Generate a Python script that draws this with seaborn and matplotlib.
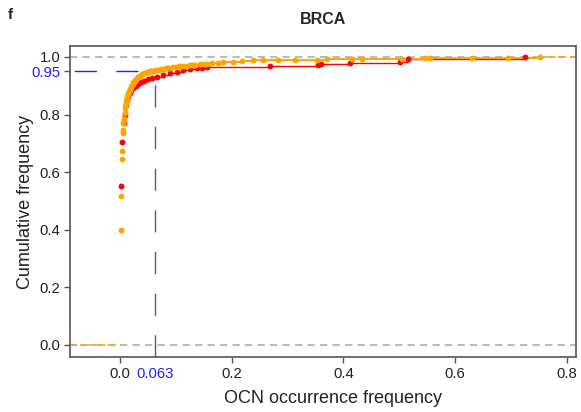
import matplotlib
matplotlib.use("Agg")
import matplotlib.pyplot as plt
import seaborn as sns
import pandas as pd

# ---- data ----
orange_x = [0.002, 0.002, 0.003, 0.003, 0.005, 0.005, 0.006, 0.007, 0.008, 0.009,
            0.010, 0.011, 0.012, 0.013, 0.014, 0.015, 0.016, 0.017, 0.018, 0.020,
            0.021, 0.023, 0.024, 0.026, 0.027, 0.029, 0.031, 0.033, 0.035, 0.038,
            0.040, 0.043, 0.045, 0.048, 0.050, 0.053, 0.056, 0.060, 0.063, 0.067,
            0.070, 0.074, 0.078, 0.082, 0.086, 0.090, 0.095, 0.100, 0.105, 0.110,
            0.115, 0.120, 0.125, 0.130, 0.135, 0.143, 0.150, 0.155, 0.165, 0.175,
            0.185, 0.202, 0.218, 0.238, 0.256, 0.283, 0.313, 0.353, 0.371, 0.415,
            0.433, 0.505, 0.546, 0.555, 0.630, 0.695, 0.752]
orange_y = [0.400, 0.517, 0.646, 0.675, 0.736, 0.745, 0.770, 0.785, 0.805, 0.822,
            0.838, 0.846, 0.855, 0.862, 0.868, 0.874, 0.880, 0.885, 0.890, 0.896,
            0.902, 0.907, 0.912, 0.916, 0.920, 0.924, 0.928, 0.932, 0.935, 0.938,
            0.941, 0.943, 0.945, 0.947, 0.948, 0.950, 0.951, 0.952, 0.953, 0.955,
            0.956, 0.958, 0.959, 0.961, 0.962, 0.963, 0.964, 0.966, 0.967, 0.968,
            0.969, 0.970, 0.971, 0.972, 0.973, 0.975, 0.976, 0.977, 0.978, 0.979,
            0.981, 0.984, 0.987, 0.988, 0.989, 0.990, 0.991, 0.991, 0.992, 0.993,
            0.993, 0.994, 0.995, 0.996, 0.997, 0.998, 1.000]

red_x = [0.001, 0.003, 0.007, 0.008, 0.010, 0.012, 0.014, 0.017, 0.020, 0.024,
         0.028, 0.032, 0.037, 0.043, 0.050, 0.058, 0.066, 0.077, 0.090, 0.102,
         0.113, 0.125, 0.138, 0.147, 0.156, 0.269, 0.355, 0.360, 0.412, 0.501,
         0.516, 0.725]
red_y = [0.552, 0.704, 0.772, 0.800, 0.833, 0.850, 0.862, 0.875, 0.885, 0.893,
         0.900, 0.907, 0.912, 0.917, 0.922, 0.926, 0.930, 0.937, 0.943, 0.948,
         0.953, 0.958, 0.960, 0.962, 0.965, 0.970, 0.972, 0.975, 0.978, 0.984,
         0.993, 1.000]

q_level = 0.95
q_value = 0.063
x_ticks = [0.0, 0.2, 0.4, 0.6, 0.8]
y_ticks = [0.0, 0.2, 0.4, 0.6, 0.8, 1.0]
title = "BRCA"
panel = "f"

df = pd.concat([
    pd.DataFrame({"x": red_x, "y": red_y, "grp": "red"}),
    pd.DataFrame({"x": orange_x, "y": orange_y, "grp": "orange"}),
])

sns.set_theme(style="white")
plt.rcParams["font.family"] = ["Liberation Sans", "DejaVu Sans"]

fig = plt.figure(figsize=(5.81, 4.12), dpi=100)
ax = fig.add_axes([0.1205, 0.1335, 0.8709, 0.7548])

xlim = (-0.0896, 0.8165)
ylim = (-0.042, 1.038)
ax.set_xlim(*xlim)
ax.set_ylim(*ylim)

# reference lines at 0 and 1
for yv in (0.0, 1.0):
    ax.axhline(yv, color="#BBBBBB", lw=1.5, ls=(0, (3.5, 2.5)), zorder=1)

# ECDF extensions
ax.plot([xlim[0], orange_x[0]], [0, 0], color="#FFA500", lw=1.2, ls=(0, (3.5, 2.5)), zorder=2)
ax.plot([orange_x[-1], xlim[1]], [1, 1], color="#FFA500", lw=1.2, ls=(0, (3.5, 2.5)), zorder=2)

pal = {"red": "#FF0000", "orange": "#FFA500"}
for grp, lw in (("red", 1.0), ("orange", 1.4)):
    sub = df[df["grp"] == grp].reset_index(drop=True)
    # horizontal step segments only (no verticals)
    ax.hlines(sub["y"].values[:-1], sub["x"].values[:-1], sub["x"].values[1:],
              color=pal[grp], lw=lw, zorder=3)
    sns.scatterplot(data=sub, x="x", y="y", color=pal[grp], s=18, linewidth=0,
                    ax=ax, zorder=4, legend=False)

# quantile markers
ax.plot([xlim[0], q_value], [q_level, q_level], color="#2222EE", lw=1.0,
        ls=(-3, (16, 14)), zorder=5)
ax.plot([q_value, q_value], [ylim[0], q_level], color="#55559A", lw=1.0,
        ls=(0, (16, 14)), zorder=5)

ax.set_xticks(x_ticks + [q_value])
ax.set_xticklabels([f"{v:.1f}" for v in x_ticks] + [f"{q_value:.3f}"])
ax.set_yticks(y_ticks + [q_level])
ax.set_yticklabels([f"{v:.1f}" for v in y_ticks] + [f"{q_level:.2f}"])
ax.tick_params(axis="both", direction="out", length=4, width=1, color="#555555",
               labelsize=10.7, labelcolor="#222222", pad=3, bottom=True, left=True)
xt = ax.get_xticklabels()[-1]
xt.set_color("#2222EE")
ax.xaxis.get_major_ticks()[-1].tick1line.set_visible(False)
yt = ax.get_yticklabels()[-1]
yt.set_color("#2222EE")
ax.yaxis.get_major_ticks()[-1].tick1line.set_color("#2222EE")

for s in ax.spines.values():
    s.set_color("#555555")
    s.set_linewidth(1.2)

ax.set_xlabel("OCN occurrence frequency", fontsize=13, color="#222222")
ax.xaxis.set_label_coords(0.52, -0.105)
ax.set_ylabel("Cumulative frequency", fontsize=13, color="#222222")
ax.yaxis.set_label_coords(-0.088, 0.5)
ax.yaxis.label.set_va("center")
ax.set_title(title, fontsize=11.5, fontweight="bold", pad=16)
fig.text(0.014, 0.98, panel, fontsize=11, fontweight="bold", va="top", ha="left")

fig.savefig("out.png", dpi=100)
